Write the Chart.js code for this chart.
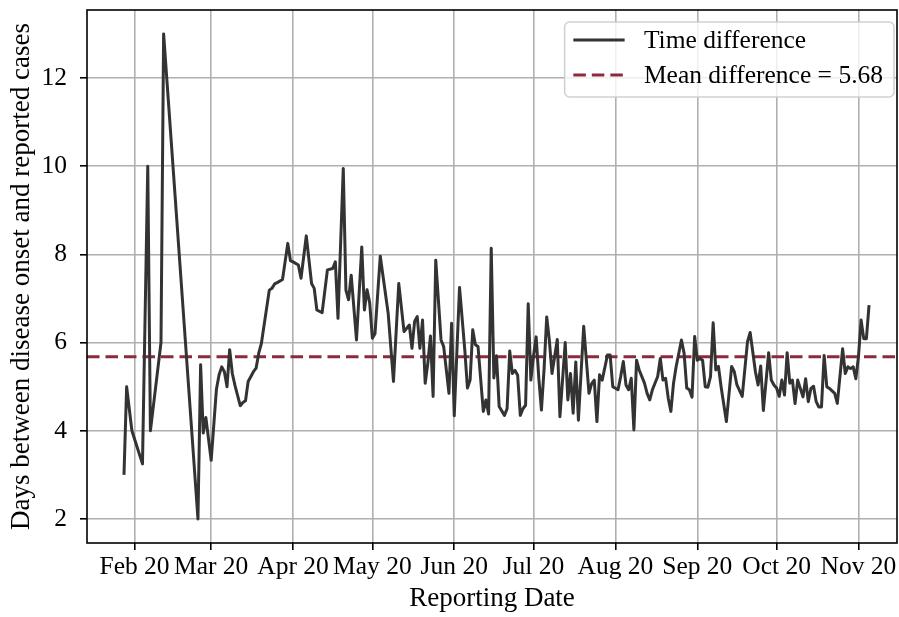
<!DOCTYPE html>
<html>
<head>
<meta charset="utf-8">
<title>Reporting delay</title>
<script src="https://cdn.jsdelivr.net/npm/chart.js@4.4.1/dist/chart.umd.min.js"></script>
<style>
  html, body { margin: 0; padding: 0; background: #ffffff; }
  #wrap { width: 899px; height: 617px; }
</style>
</head>
<body>
<div id="wrap"><canvas id="chart" width="899" height="617"></canvas></div>
<script>
// Reporting dates and the delay (days) between disease onset and reporting
const reportDates = [
  '2020-01-28','2020-01-29','2020-01-31','2020-02-04','2020-02-06','2020-02-07','2020-02-11','2020-02-12',
  '2020-02-25','2020-02-26','2020-02-27','2020-02-28','2020-03-01','2020-03-03','2020-03-04','2020-03-05',
  '2020-03-06','2020-03-07','2020-03-08','2020-03-09','2020-03-10','2020-03-12','2020-03-13','2020-03-14',
  '2020-03-15','2020-03-17','2020-03-18','2020-03-19','2020-03-20','2020-03-23','2020-03-24','2020-03-25',
  '2020-03-26','2020-03-28','2020-03-30','2020-03-31','2020-04-01','2020-04-03','2020-04-04','2020-04-06',
  '2020-04-08','2020-04-09','2020-04-10','2020-04-12','2020-04-14','2020-04-16','2020-04-17','2020-04-18',
  '2020-04-20','2020-04-21','2020-04-22','2020-04-23','2020-04-25','2020-04-27','2020-04-28','2020-04-29',
  '2020-04-30','2020-05-01','2020-05-02','2020-05-04','2020-05-07','2020-05-09','2020-05-11','2020-05-13',
  '2020-05-15','2020-05-16','2020-05-17','2020-05-18','2020-05-19','2020-05-20','2020-05-21','2020-05-22',
  '2020-05-23','2020-05-24','2020-05-25','2020-05-27','2020-05-28','2020-05-29','2020-05-30','2020-05-31',
  '2020-06-01','2020-06-03','2020-06-05','2020-06-06','2020-06-07','2020-06-08','2020-06-09','2020-06-10',
  '2020-06-12','2020-06-13','2020-06-14','2020-06-15','2020-06-16','2020-06-17','2020-06-18','2020-06-20',
  '2020-06-21','2020-06-22','2020-06-23','2020-06-24','2020-06-25','2020-06-26','2020-06-27','2020-06-28',
  '2020-06-29','2020-06-30','2020-07-01','2020-07-02','2020-07-03','2020-07-04','2020-07-05','2020-07-06',
  '2020-07-07','2020-07-08','2020-07-10','2020-07-11','2020-07-13','2020-07-14','2020-07-15','2020-07-16',
  '2020-07-17','2020-07-18','2020-07-20','2020-07-22','2020-07-23','2020-07-24','2020-07-25','2020-07-26',
  '2020-07-27','2020-07-29','2020-07-30','2020-07-31','2020-08-02','2020-08-03','2020-08-04','2020-08-05',
  '2020-08-06','2020-08-07','2020-08-08','2020-08-09','2020-08-10','2020-08-12','2020-08-13','2020-08-14',
  '2020-08-15','2020-08-17','2020-08-18','2020-08-19','2020-08-20','2020-08-21','2020-08-22','2020-08-23',
  '2020-08-24','2020-08-26','2020-08-27','2020-08-28','2020-08-29','2020-08-30','2020-08-31','2020-09-01',
  '2020-09-02','2020-09-03','2020-09-04','2020-09-05','2020-09-06','2020-09-07','2020-09-08','2020-09-09',
  '2020-09-10','2020-09-12','2020-09-14','2020-09-15','2020-09-16','2020-09-18','2020-09-20','2020-09-21',
  '2020-09-23','2020-09-24','2020-09-25','2020-09-26','2020-09-28','2020-09-29','2020-09-30','2020-10-01',
  '2020-10-02','2020-10-03','2020-10-04','2020-10-05','2020-10-06','2020-10-07','2020-10-08','2020-10-09',
  '2020-10-11','2020-10-12','2020-10-13','2020-10-14','2020-10-15','2020-10-16','2020-10-17','2020-10-18',
  '2020-10-19','2020-10-20','2020-10-21','2020-10-23','2020-10-24','2020-10-26','2020-10-27','2020-10-28',
  '2020-10-29','2020-10-30','2020-10-31','2020-11-01','2020-11-02','2020-11-03','2020-11-04','2020-11-05'
];

const timeDifference = [
  3.0, 5.0, 4.0, 3.25, 10.0, 4.0, 6.0, 13.0,
  2.0, 5.5, 3.95, 4.3, 3.33, 4.95, 5.27, 5.45,
  5.34, 5.0, 5.84, 5.3, 5.03, 4.57, 4.64, 4.68,
  5.12, 5.34, 5.42, 5.76, 5.98, 7.19, 7.23, 7.33,
  7.36, 7.43, 8.25, 7.86, 7.83, 7.76, 7.46, 8.42,
  7.34, 7.23, 6.74, 6.68, 7.65, 7.68, 7.83, 6.55,
  9.95, 7.19, 6.97, 7.53, 6.06, 8.17, 6.74, 7.2,
  6.9, 6.1, 6.2, 7.96, 6.66, 5.12, 7.34, 6.25,
  6.4, 5.87, 6.48, 6.59, 5.87, 6.51, 5.08, 5.53,
  6.15, 4.78, 7.87, 6.06, 5.91, 5.38, 4.85, 6.44,
  4.34, 7.25, 5.83, 4.97, 5.15, 6.29, 5.95, 5.91,
  4.44, 4.7, 4.38, 8.14, 5.2, 5.7, 4.55, 4.35,
  4.5, 5.81, 5.3, 5.37, 5.26, 4.35, 4.5, 4.58,
  6.88, 5.15, 5.7, 6.13, 5.2, 4.47, 5.4, 6.58,
  6.05, 5.3, 6.07, 4.32, 6.0, 4.7, 5.3, 4.4,
  5.56, 4.24, 6.37, 4.85, 5.07, 5.15, 4.21, 5.27,
  5.15, 5.72, 5.72, 5.0, 4.93, 5.23, 5.57, 5.04,
  4.93, 5.19, 4.02, 5.6, 5.38, 5.08, 4.85, 4.7,
  4.93, 5.23, 5.64, 5.15, 5.19, 4.74, 4.44, 5.08,
  5.46, 6.06, 5.76, 4.97, 4.93, 4.76, 6.14, 5.6,
  5.64, 5.6, 5.0, 4.99, 5.23, 6.45, 5.38, 5.46,
  5.0, 4.21, 5.46, 5.34, 5.04, 4.78, 6.02, 6.23,
  5.34, 5.04, 5.47, 4.46, 5.77, 5.15, 5.04, 4.97,
  4.78, 5.15, 4.81, 5.77, 5.08, 5.15, 4.62, 5.15,
  4.77, 5.18, 4.66, 4.96, 5.01, 4.66, 4.54, 4.54,
  5.71, 5.0, 4.96, 4.85, 4.62, 5.86, 5.3, 5.45,
  5.41, 5.45, 5.18, 5.68, 6.51, 6.09, 6.09, 6.85
];

// Mean of the delay, shown as a horizontal reference line
const meanDifference = 5.68;

// Month ticks on the date axis
const monthTickDates = ['2020-02-01','2020-03-01','2020-04-01','2020-05-01','2020-06-01',
                        '2020-07-01','2020-08-01','2020-09-01','2020-10-01','2020-11-01'];
const monthTickLabels = ['Feb 20','Mar 20','Apr 20','May 20','Jun 20',
                         'Jul 20','Aug 20','Sep 20','Oct 20','Nov 20'];
const delayTicks = [2, 4, 6, 8, 10, 12];

// Visible date window and delay window
const dateAxisStart = '2020-01-14T00:00:00Z';
const dateAxisEnd = '2020-11-15T14:00:00Z';
const delayAxisMin = 1.456;
const delayAxisMax = 13.542;

// Dates are placed on a linear axis as days since 1 Feb 2020
const ORIGIN = Date.UTC(2020, 1, 1);
function dayOf(s) {
  const iso = s.length === 10 ? s + 'T00:00:00Z' : s;
  return (Date.parse(iso) - ORIGIN) / 86400000;
}

const X_MIN = dayOf(dateAxisStart);
const X_MAX = dayOf(dateAxisEnd);

const FONT_FAMILY = "'Liberation Serif', 'Times New Roman', serif";
const FONT = { family: FONT_FAMILY, size: 25.5, lineHeight: 1.2 };
const TITLE_FONT = { family: FONT_FAMILY, size: 27, lineHeight: 1.2 };

// Full black frame around the plotting area
const frame = {
  id: 'frame',
  afterDatasetsDraw(chart) {
    const { ctx, chartArea: a } = chart;
    ctx.save();
    ctx.strokeStyle = '#000';
    ctx.lineWidth = 1.6;
    ctx.strokeRect(a.left, a.top, a.right - a.left, a.bottom - a.top);
    ctx.restore();
  }
};

// Boxed legend in the upper right corner
const boxedLegend = {
  id: 'boxedLegend',
  afterDraw(chart) {
    const { ctx, chartArea: a } = chart;
    const sets = chart.data.datasets;
    ctx.save();
    ctx.font = `${FONT.size}px ${FONT_FAMILY}`;
    const textW = Math.max(...sets.map(s => ctx.measureText(s.label).width));
    const padL = 8.7, handle = 51.3, gap = 19.3, padR = 11, rowH = 35, h = 75;
    const w = padL + handle + gap + textW + padR;
    const x = a.right - 3 - w;
    const y = a.top + 12;
    ctx.beginPath();
    ctx.roundRect(x, y, w, h, 5);
    ctx.fillStyle = 'rgba(255,255,255,0.8)';
    ctx.fill();
    ctx.strokeStyle = 'rgba(204,204,204,0.9)';
    ctx.lineWidth = 1.6;
    ctx.stroke();
    sets.forEach((s, i) => {
      const cy = y + 18 + i * rowH;
      ctx.beginPath();
      ctx.setLineDash(s.borderDash || []);
      ctx.strokeStyle = s.borderColor;
      ctx.lineWidth = s.borderWidth;
      ctx.moveTo(x + padL, cy);
      ctx.lineTo(x + padL + handle, cy);
      ctx.stroke();
      ctx.setLineDash([]);
      ctx.fillStyle = '#000';
      ctx.textAlign = 'left';
      ctx.textBaseline = 'middle';
      ctx.fillText(s.label, x + padL + handle + gap, cy + 1);
    });
    ctx.restore();
  }
};

const gridStyle = { color: '#b0b0b0', lineWidth: 1.6, tickLength: 7, tickColor: '#000', tickWidth: 1.6 };

new Chart(document.getElementById('chart'), {
  type: 'line',
  data: {
    datasets: [
      {
        label: 'Time difference',
        data: reportDates.map((d, i) => ({ x: dayOf(d), y: timeDifference[i] })),
        borderColor: '#333333',
        borderWidth: 3,
        borderJoinStyle: 'round',
        pointRadius: 0,
        tension: 0,
        fill: false
      },
      {
        label: 'Mean difference = ' + meanDifference.toFixed(2),
        data: [{ x: X_MIN, y: meanDifference }, { x: X_MAX, y: meanDifference }],
        borderColor: '#8c2a3c',
        borderWidth: 3,
        borderDash: [12.5, 6],
        pointRadius: 0,
        fill: false
      }
    ]
  },
  options: {
    responsive: false,
    animation: false,
    layout: { padding: { top: 10, right: 2, left: 0, bottom: 0 } },
    plugins: { legend: { display: false }, tooltip: { enabled: false } },
    scales: {
      x: {
        type: 'linear',
        min: X_MIN,
        max: X_MAX,
        afterBuildTicks: s => { s.ticks = monthTickDates.map(d => ({ value: dayOf(d) })); },
        afterFit: s => { s.height = 74; s.paddingLeft = 0; s.paddingRight = 0; },
        ticks: {
          autoSkip: false, maxRotation: 0, minRotation: 0, padding: 2,
          font: FONT, color: '#000',
          callback: (v, i) => monthTickLabels[i]
        },
        grid: gridStyle,
        border: { display: false },
        title: { display: true, text: 'Reporting Date', font: TITLE_FONT, color: '#000', padding: { top: 0, bottom: 2 } }
      },
      y: {
        type: 'linear',
        min: delayAxisMin,
        max: delayAxisMax,
        afterBuildTicks: s => { s.ticks = delayTicks.map(v => ({ value: v })); },
        afterFit: s => { s.width = 87; s.paddingTop = 0; s.paddingBottom = 0; },
        ticks: { padding: 13, font: FONT, color: '#000' },
        grid: gridStyle,
        border: { display: false },
        title: { display: true, text: 'Days between disease onset and reported cases', font: TITLE_FONT, color: '#000', padding: { top: 6, bottom: 0 } }
      }
    }
  },
  plugins: [frame, boxedLegend]
});
</script>
</body>
</html>
